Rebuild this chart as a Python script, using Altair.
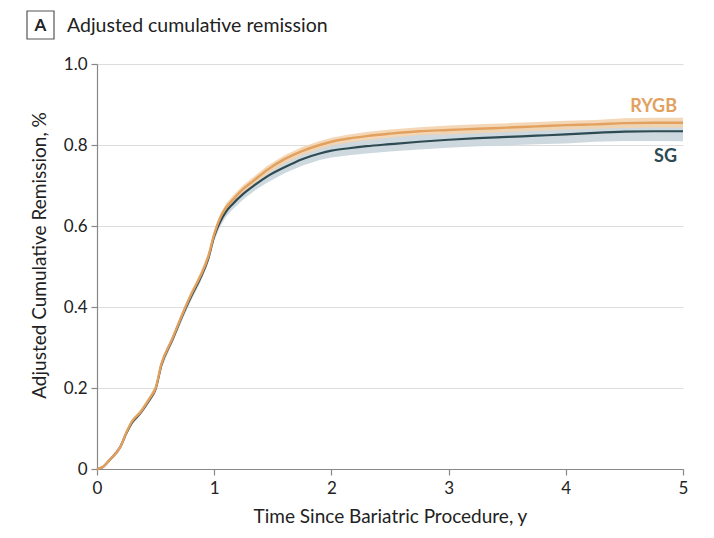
import altair as alt
import pandas as pd

# ---- data ----
time = [0, 0.05, 0.1, 0.2, 0.25, 0.3, 0.37, 0.45, 0.5, 0.55, 0.64, 0.74, 0.81, 0.88,
        0.95, 1.0, 1.05, 1.1, 1.15, 1.25, 1.35, 1.45, 1.6, 1.75, 1.9, 2.0, 2.15, 2.3,
        2.5, 2.75, 3.0, 3.25, 3.5, 3.75, 4.0, 4.25, 4.5, 4.75, 5.0]
rygb = [0, 0.005, 0.02, 0.055, 0.09, 0.118, 0.14, 0.175, 0.2, 0.26, 0.32, 0.39, 0.435,
        0.475, 0.525, 0.58, 0.62, 0.645, 0.662, 0.692, 0.715, 0.738, 0.765, 0.785, 0.80,
        0.808, 0.816, 0.822, 0.828, 0.834, 0.837, 0.84, 0.843, 0.846, 0.849, 0.851,
        0.854, 0.855, 0.855]
sg = [0, 0.005, 0.02, 0.055, 0.088, 0.115, 0.138, 0.172, 0.197, 0.257, 0.317, 0.386,
      0.43, 0.47, 0.52, 0.575, 0.61, 0.635, 0.652, 0.68, 0.702, 0.722, 0.745, 0.765,
      0.779, 0.786, 0.792, 0.797, 0.802, 0.808, 0.813, 0.817, 0.82, 0.823, 0.826, 0.83,
      0.833, 0.834, 0.834]
rygb_hw = [0, 0.002, 0.003, 0.004, 0.005, 0.005, 0.006, 0.006, 0.007, 0.007, 0.008,
           0.008, 0.008, 0.009, 0.009, 0.009, 0.009, 0.01, 0.01, 0.01, 0.01, 0.01, 0.01,
           0.01, 0.01, 0.01, 0.01, 0.01, 0.01, 0.01, 0.011, 0.011, 0.011, 0.011, 0.011,
           0.011, 0.012, 0.012, 0.012]
sg_hw = [0, 0.002, 0.003, 0.004, 0.005, 0.006, 0.006, 0.007, 0.008, 0.008, 0.009,
         0.01, 0.01, 0.011, 0.011, 0.012, 0.012, 0.013, 0.013, 0.014, 0.014, 0.015,
         0.015, 0.016, 0.016, 0.017, 0.017, 0.018, 0.018, 0.019, 0.02, 0.02, 0.021,
         0.021, 0.022, 0.022, 0.023, 0.024, 0.025]

FONT = "Lato"
ORANGE = "#E2A15E"
ORANGE_BAND = "#F3D3AF"
SLATE = "#2E4A52"
SLATE_BAND = "#C9D5DB"

df = pd.DataFrame({"time": time, "rygb": rygb, "sg": sg})
df["rygb_lo"] = [v - h for v, h in zip(rygb, rygb_hw)]
df["rygb_hi"] = [v + h for v, h in zip(rygb, rygb_hw)]
df["sg_lo"] = [v - h for v, h in zip(sg, sg_hw)]
df["sg_hi"] = [v + h for v, h in zip(sg, sg_hw)]

xscale = alt.Scale(domain=[0, 5], nice=False)
yscale = alt.Scale(domain=[0, 1], nice=False)

xaxis = alt.Axis(values=[0, 1, 2, 3, 4, 5], format="d", title="Time Since Bariatric Procedure, y",
                 grid=False, tickSize=6, labelPadding=5, titlePadding=11, labelFlush=False)
yaxis = alt.Axis(values=[0, 0.2, 0.4, 0.6, 0.8, 1.0],
                 labelExpr="datum.value == 0 ? '0' : format(datum.value, '.1f')",
                 title="Adjusted Cumulative Remission, %", grid=True, tickSize=6,
                 labelPadding=4, titleX=-58, titleY=191, titleAngle=-90,
                 titleBaseline="middle", titleAlign="center", labelFlush=False)

base = alt.Chart(df)

sg_band = base.mark_area(color=SLATE_BAND, opacity=0.9).encode(
    x=alt.X("time:Q", scale=xscale, axis=xaxis),
    y=alt.Y("sg_lo:Q", scale=yscale, axis=yaxis),
    y2="sg_hi:Q",
)
rygb_band = base.mark_area(color=ORANGE_BAND, opacity=0.9).encode(
    x=alt.X("time:Q", scale=xscale),
    y=alt.Y("rygb_lo:Q", scale=yscale),
    y2="rygb_hi:Q",
)
sg_line = base.mark_line(color=SLATE, strokeWidth=2.2, interpolate="monotone").encode(
    x=alt.X("time:Q", scale=xscale),
    y=alt.Y("sg:Q", scale=yscale),
)
rygb_line = base.mark_line(color=ORANGE, strokeWidth=2.4, interpolate="monotone").encode(
    x=alt.X("time:Q", scale=xscale),
    y=alt.Y("rygb:Q", scale=yscale),
)

one = pd.DataFrame({"a": [0]})
ann = alt.Chart(one)
lbl_rygb = ann.mark_text(text="RYGB", font=FONT, fontSize=18, fontWeight="bold",
                         color=ORANGE, align="right", baseline="middle").encode(
    x=alt.value(580), y=alt.value(43))
lbl_sg = ann.mark_text(text="SG", font=FONT, fontSize=18, fontWeight="bold",
                       color=SLATE, align="right", baseline="middle").encode(
    x=alt.value(580), y=alt.value(93))
box = ann.mark_rect(fill="white", stroke="#555555", strokeWidth=1.2).encode(
    x=alt.value(-70), x2=alt.value(-43), y=alt.value(-53), y2=alt.value(-25))
box_txt = ann.mark_text(text="A", font=FONT, fontSize=17, fontWeight="bold",
                        color="#222222", align="center", baseline="middle").encode(
    x=alt.value(-56.5), y=alt.value(-38.5))
title_txt = ann.mark_text(text="Adjusted cumulative remission", font=FONT, fontSize=19.5,
                          color="#222222", align="left", baseline="middle").encode(
    x=alt.value(-30), y=alt.value(-38.5))

chart = alt.layer(sg_band, rygb_band, sg_line, rygb_line, lbl_rygb, lbl_sg, box,
                  box_txt, title_txt).properties(
    width=586, height=405,
    autosize=alt.AutoSizeParams(type="none"),
    padding={"left": 89, "top": 56, "right": 20, "bottom": 60},
).configure_view(stroke=None).configure_axis(
    labelFont=FONT, titleFont=FONT, labelFontSize=17, titleFontSize=19,
    labelColor="#222222", titleColor="#222222", titleFontWeight="normal",
    domainColor="#888888", tickColor="#888888", gridColor="#DDDDDD",
    domainWidth=1.2, tickWidth=1.2,
)

chart.save("out.html", embed_options={"renderer": "svg", "actions": False})
